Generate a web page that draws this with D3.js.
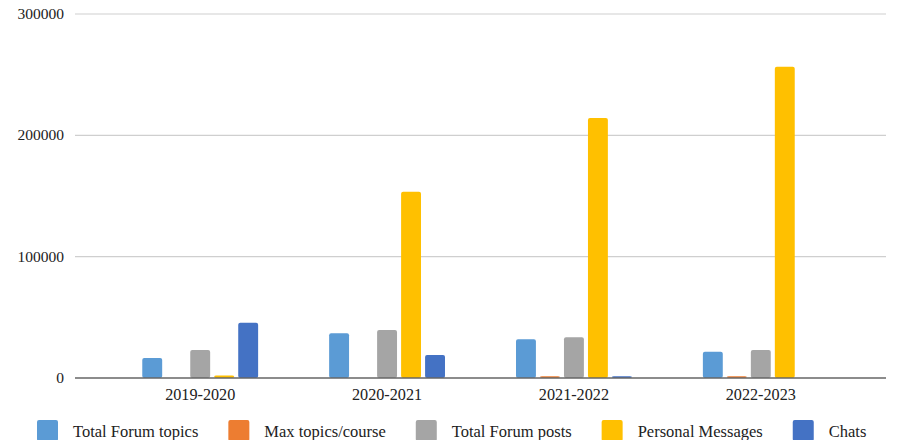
<!DOCTYPE html>
<html>
<head>
<meta charset="utf-8">
<script src="https://cdn.jsdelivr.net/npm/d3@7"></script>
<style>
  body { margin: 0; background: #fff; }
  text { font-family: "Liberation Serif", "Times New Roman", serif; fill: #222; }
</style>
</head>
<body>
<div id="chart"></div>
<script>
// chart data
const years = ["2019-2020", "2020-2021", "2021-2022", "2022-2023"];
const seriesNames = ["Total Forum topics", "Max topics/course", "Total Forum posts", "Personal Messages", "Chats"];
const totalForumTopics = [16500, 36800, 31900, 21700];
const maxTopicsCourse = [0, 0, 1500, 1500];
const totalForumPosts = [23000, 39600, 33500, 23000];
const personalMessages = [2000, 153600, 214300, 256600];
const chats = [45600, 19000, 1500, 0];
const yTicks = [0, 100000, 200000, 300000];

const colors = ["#5B9BD5", "#ED7D31", "#A5A5A5", "#FFC000", "#4472C4"];
const values = [totalForumTopics, maxTopicsCourse, totalForumPosts, personalMessages, chats];

const W = 900, H = 440;
let margin = {top: 14, right: 14, bottom: 62, left: 75};
let width = W - margin.left - margin.right,
  height = H - margin.top - margin.bottom;

let svg = d3.select("#chart")
  .append("svg")
  .attr("width", W)
  .attr("height", H);

let g = svg.append("g")
  .attr("transform", "translate(" + margin.left + "," + margin.top + ")");

// scales
let x0 = d3.scaleBand()
  .domain(years)
  .range([0, width])
  .paddingInner(0.38)
  .paddingOuter(0.36);

let x1 = d3.scaleBand()
  .domain(seriesNames)
  .range([0, x0.bandwidth()])
  .paddingInner(0.17);

let y = d3.scaleLinear()
  .domain([0, 300000])
  .range([height, 0]);

// gridlines
g.append("g")
  .selectAll("line")
  .data(yTicks.filter(d => d > 0))
  .enter()
  .append("line")
  .attr("x1", 0)
  .attr("x2", width)
  .attr("y1", d => y(d))
  .attr("y2", d => y(d))
  .attr("stroke", "#cfcfcf")
  .attr("stroke-width", 1.2);

// y labels
g.append("g")
  .selectAll("text")
  .data(yTicks)
  .enter()
  .append("text")
  .attr("x", -11)
  .attr("y", d => y(d))
  .attr("dy", "0.33em")
  .attr("text-anchor", "end")
  .style("font-size", "15.5px")
  .text(d => d);

// bars
let rows = years.map((yr, i) => ({year: yr, items: seriesNames.map((s, j) => ({name: s, value: values[j][i], color: colors[j]}))}));

g.append("g")
  .selectAll("g")
  .data(rows)
  .enter()
  .append("g")
  .attr("transform", d => "translate(" + x0(d.year) + ",0)")
  .selectAll("rect")
  .data(d => d.items.filter(e => e.value > 0))
  .enter()
  .append("rect")
  .attr("x", d => x1(d.name))
  .attr("y", d => y(d.value))
  .attr("width", x1.bandwidth())
  .attr("height", d => height - y(d.value))
  .attr("rx", 2)
  .attr("fill", d => d.color);

// x axis line
g.append("line")
  .attr("x1", 0)
  .attr("x2", width)
  .attr("y1", height)
  .attr("y2", height)
  .attr("stroke", "#666")
  .attr("stroke-width", 1.6);

// x labels
g.append("g")
  .selectAll("text")
  .data(years)
  .enter()
  .append("text")
  .attr("x", d => x0(d) + x0.bandwidth() / 2)
  .attr("y", height + 22)
  .attr("text-anchor", "middle")
  .style("font-size", "16.2px")
  .text(d => d);

// legend
let legend = svg.append("g");
let lx = 37;
seriesNames.forEach((s, j) => {
  let item = legend.append("g").attr("transform", "translate(" + lx + ",0)");
  item.append("rect")
    .attr("x", 0)
    .attr("y", 420)
    .attr("width", 21)
    .attr("height", 21)
    .attr("rx", 2)
    .attr("fill", colors[j]);
  let t = item.append("text")
    .attr("x", 36)
    .attr("y", 437)
    .style("font-size", "16.5px")
    .text(s);
  lx += 36 + t.node().getComputedTextLength() + 30;
});
</script>
</body>
</html>
